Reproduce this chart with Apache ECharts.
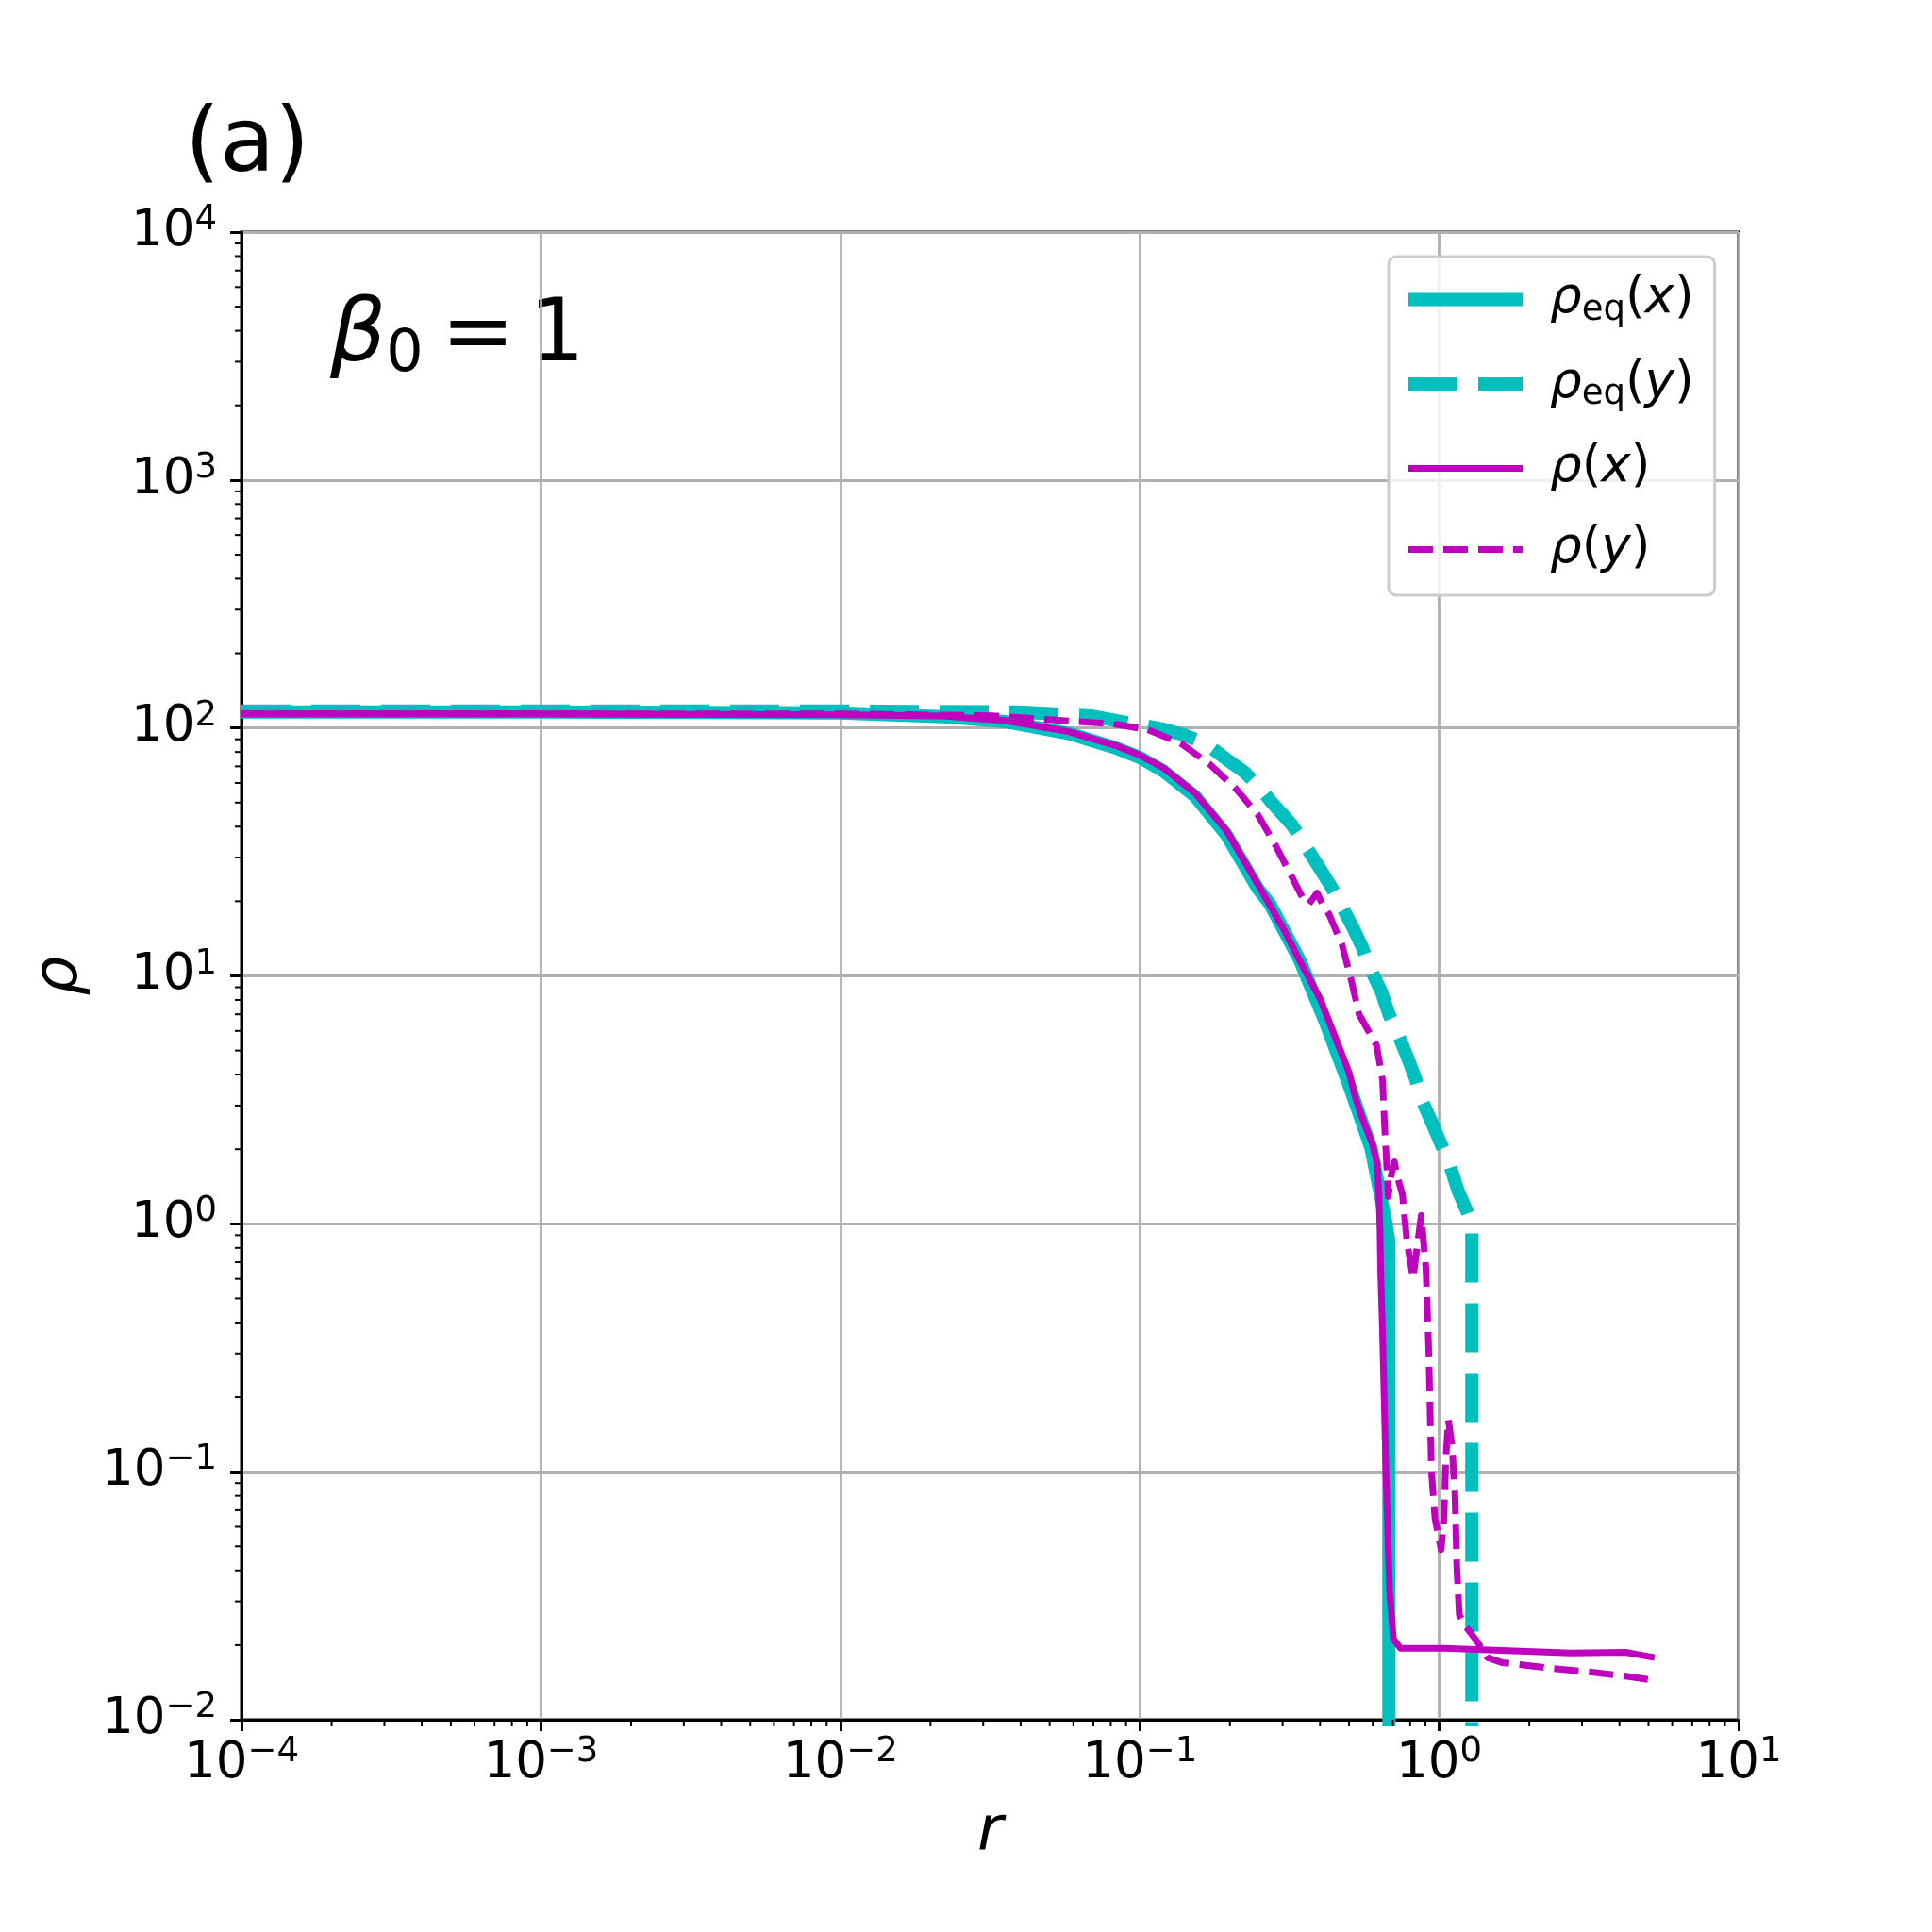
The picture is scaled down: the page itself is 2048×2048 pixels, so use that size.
<!DOCTYPE html>
<html><head><meta charset="utf-8">
<script src="https://cdn.jsdelivr.net/npm/echarts@6/dist/echarts.min.js"></script>
<style>html,body{margin:0;padding:0;background:#fff}#c{width:2048px;height:2048px}</style>
</head><body><div id="c"></div>
<script>
const FONT = 'DejaVu Sans';
const seriesNames = ['ρeq(x)', 'ρeq(y)', 'ρ(x)', 'ρ(y)'];
const seriesColors = ['#00bfbf', '#00bfbf', '#bf00bf', '#bf00bf'];

// [r, rho]
const rhoEqX = [[1e-4,116],[1e-3,116],[0.01,115],[0.0221,111],[0.0358,106],[0.058,95],[0.0834,83],[0.1,76],[0.12,67],[0.153,53],[0.195,37],[0.248,22.5],[0.272,19.5],[0.343,11.5],[0.417,6.5],[0.5,3.63],[0.592,2.02],[0.66,1.05],[0.679,0.85],[0.679,0.001]];
const rhoEqY = [[1e-4,117],[1e-3,117],[0.01,117],[0.0394,116],[0.0687,111.8],[0.117,99.4],[0.14,94],[0.166,86.6],[0.195,74.8],[0.224,66.3],[0.253,57],[0.273,50.8],[0.322,40.7],[0.355,34],[0.435,23],[0.468,19.5],[0.512,15.9],[0.553,13.1],[0.589,10.7],[0.64,8.67],[0.68,7.0],[0.731,5.75],[0.782,4.72],[0.834,3.85],[0.875,3.16],[0.948,2.54],[1.024,2.04],[1.09,1.70],[1.156,1.36],[1.24,1.12],[1.285,1.0],[1.285,0.001]];
const rhoX = [[1e-4,114],[1e-3,114],[0.01,113],[0.0221,111.7],[0.0358,107],[0.058,96.6],[0.0834,84.7],[0.1,77.6],[0.12,69],[0.153,54.6],[0.195,38.5],[0.248,23.4],[0.301,15.6],[0.34,11.7],[0.402,8.0],[0.442,5.97],[0.5,4.08],[0.525,3.23],[0.551,2.71],[0.6,2.08],[0.621,1.75],[0.629,1.31],[0.634,0.975],[0.638,0.63],[0.646,0.386],[0.664,0.101],[0.683,0.033],[0.703,0.0212],[0.743,0.0194],[1.04,0.0194],[2.75,0.0186],[4.19,0.0187],[5.24,0.0178]];
const rhoY = [[1e-4,114],[1e-3,114],[0.01,114],[0.032,112],[0.0815,103.8],[0.106,98.6],[0.137,86.7],[0.171,71.5],[0.209,57],[0.248,44.6],[0.284,33.6],[0.322,25.1],[0.351,20.5],[0.367,19.5],[0.391,21.6],[0.41,19.2],[0.428,17.8],[0.474,13.3],[0.508,9.67],[0.54,7.0],[0.618,5.24],[0.647,3.8],[0.655,2.71],[0.663,2.03],[0.672,1.5],[0.676,1.29],[0.69,1.55],[0.709,1.78],[0.72,1.6],[0.754,1.31],[0.781,0.843],[0.818,0.604],[0.871,1.08],[0.903,0.66],[0.923,0.309],[0.942,0.101],[0.968,0.065],[1.015,0.0485],[1.037,0.065],[1.052,0.111],[1.073,0.162],[1.104,0.127],[1.129,0.081],[1.145,0.0415],[1.167,0.0265],[1.227,0.0238],[1.334,0.0208],[1.45,0.0178],[1.62,0.017],[2.4,0.0161],[3.17,0.0156],[4.19,0.015],[5.24,0.0144]];

const xDecades = [-4, -3, -2, -1, 0, 1];
const yDecades = [-2, -1, 0, 1, 2, 3, 4];
const minorMultipliers = [2, 3, 4, 5, 6, 7, 8, 9];

const xMin = Math.pow(10, xDecades[0]), xMax = Math.pow(10, xDecades[xDecades.length - 1]);
const yMin = Math.pow(10, yDecades[0]), yMax = Math.pow(10, yDecades[yDecades.length - 1]);

const minorData = [];
xDecades.slice(0, -1).forEach(d => minorMultipliers.forEach(k => minorData.push([k * Math.pow(10, d), yMin, 0])));
yDecades.slice(0, -1).forEach(d => minorMultipliers.forEach(k => minorData.push([xMin, k * Math.pow(10, d), 1])));

function expLabel(v) {
  const e = Math.round(Math.log10(v));
  return '{b|10}{s|' + (e < 0 ? '\u2212' + (-e) : e) + '}';
}
const tickRich = {
  b: { fontSize: 53, fontFamily: FONT, color: '#000', lineHeight: 62 },
  s: { fontSize: 37, fontFamily: FONT, color: '#000', lineHeight: 35, verticalAlign: 'top' }
};

const legendRich = {
  'ρeq(x)': '{i0|ρ}{sub|eq}{n|(}{i|x}{n|)}',
  'ρeq(y)': '{i0|ρ}{sub|eq}{n|(}{i|y}{n|)}',
  'ρ(x)': '{i0|ρ}{n|(}{i|x}{n|)}',
  'ρ(y)': '{i0|ρ}{n|(}{i|y}{n|)}'
};

const dashPatterns = ['solid', [52, 22], 'solid', [26, 11]];
const widths = [14, 14, 7, 7];
const dataSets = [rhoEqX, rhoEqY, rhoX, rhoY];

const chart = echarts.init(document.getElementById('c'), null, { renderer: 'canvas' });
chart.setOption({
  animation: false,
  backgroundColor: '#fff',
  grid: { left: 256, right: 205, top: 246, bottom: 225, show: true, borderColor: '#000', borderWidth: 3, backgroundColor: 'transparent' },
  xAxis: {
    type: 'log', logBase: 10, min: xMin, max: xMax,
    name: 'r', nameLocation: 'middle', nameGap: 88,
    nameTextStyle: { fontSize: 66, fontFamily: FONT, fontStyle: 'italic', color: '#000' },
    axisLine: { show: true, lineStyle: { color: '#000', width: 3 } },
    axisTick: { show: true, inside: false, length: 12, lineStyle: { color: '#000', width: 3 } },
    axisLabel: { margin: 16, formatter: expLabel, rich: tickRich, showMinLabel: true, showMaxLabel: true },
    splitLine: { show: true, lineStyle: { color: '#b0b0b0', width: 2.8 } },
    minorTick: { show: false }
  },
  yAxis: {
    type: 'log', logBase: 10, min: yMin, max: yMax,
    name: 'ρ', nameLocation: 'middle', nameGap: 157, nameRotate: 90,
    nameTextStyle: { fontSize: 66, fontFamily: FONT, fontStyle: 'italic', color: '#000' },
    axisLine: { show: true, lineStyle: { color: '#000', width: 3 } },
    axisTick: { show: true, inside: false, length: 12, lineStyle: { color: '#000', width: 3 } },
    axisLabel: { margin: 26, formatter: expLabel, rich: tickRich, showMinLabel: true, showMaxLabel: true },
    splitLine: { show: true, lineStyle: { color: '#b0b0b0', width: 2.8 } }
  },
  legend: {
    data: seriesNames, orient: 'vertical', left: 1472, top: 272,
    itemWidth: 121, itemHeight: 14, itemGap: 33,
    padding: [19, 22, 22, 14],
    backgroundColor: 'rgba(255,255,255,0.8)', borderColor: '#cccccc', borderWidth: 3, borderRadius: 8,
    lineStyle: { width: 'inherit', type: 'inherit', cap: 'butt' },
    itemStyle: { opacity: 0, color: 'transparent', borderWidth: 0 },
    formatter: name => legendRich[name],
    textStyle: {
      rich: {
        i0: { fontSize: 53, fontFamily: FONT, fontStyle: 'italic', color: '#000', lineHeight: 60, padding: [0, 0, 0, 24] },
        i: { fontSize: 53, fontFamily: FONT, fontStyle: 'italic', color: '#000', lineHeight: 60 },
        n: { fontSize: 53, fontFamily: FONT, color: '#000', lineHeight: 60 },
        sub: { fontSize: 37, fontFamily: FONT, color: '#000', lineHeight: 36, verticalAlign: 'bottom' }
      }
    }
  },
  graphic: [
    { type: 'text', x: 196, y: 156, style: { text: '(a)', fontSize: 95, fontFamily: FONT, fill: '#000', align: 'left', verticalAlign: 'middle' } },
    { type: 'text', x: 350, y: 358, style: {
        text: '{b|β}{s|0}{e|=}{n|1}', align: 'left', verticalAlign: 'middle',
        rich: {
          b: { fontSize: 93, fontFamily: FONT, fontStyle: 'italic', fill: '#000', lineHeight: 100 },
          s: { fontSize: 62, fontFamily: FONT, fill: '#000', lineHeight: 49, verticalAlign: 'bottom' },
          e: { fontSize: 93, fontFamily: FONT, fill: '#000', lineHeight: 100, padding: [0, 0, 0, 19] },
          n: { fontSize: 93, fontFamily: FONT, fill: '#000', lineHeight: 100, padding: [0, 0, 0, 15] }
        } } }
  ],
  series: dataSets.map((d, i) => ({
    name: seriesNames[i], type: 'line', data: d, showSymbol: false, symbol: 'none',
    clip: true, smooth: false, z: 3 + i,
    lineStyle: { color: seriesColors[i], width: widths[i], type: dashPatterns[i], cap: 'butt', join: 'round' },
    itemStyle: { color: seriesColors[i] }
  })).concat([{
    type: 'custom', name: 'minorTicks', data: minorData, silent: true, clip: false, z: 10,
    encode: { x: 0, y: 1 },
    renderItem: (params, api) => {
      const kind = api.value(2);
      const p = api.coord([api.value(0), api.value(1)]);
      if (kind === 0) return { type: 'line', shape: { x1: p[0], y1: p[1], x2: p[0], y2: p[1] + 7 }, style: { stroke: '#000', lineWidth: 2 } };
      return { type: 'line', shape: { x1: p[0] - 7, y1: p[1], x2: p[0], y2: p[1] }, style: { stroke: '#000', lineWidth: 2 } };
    }
  }])
});
</script></body></html>
